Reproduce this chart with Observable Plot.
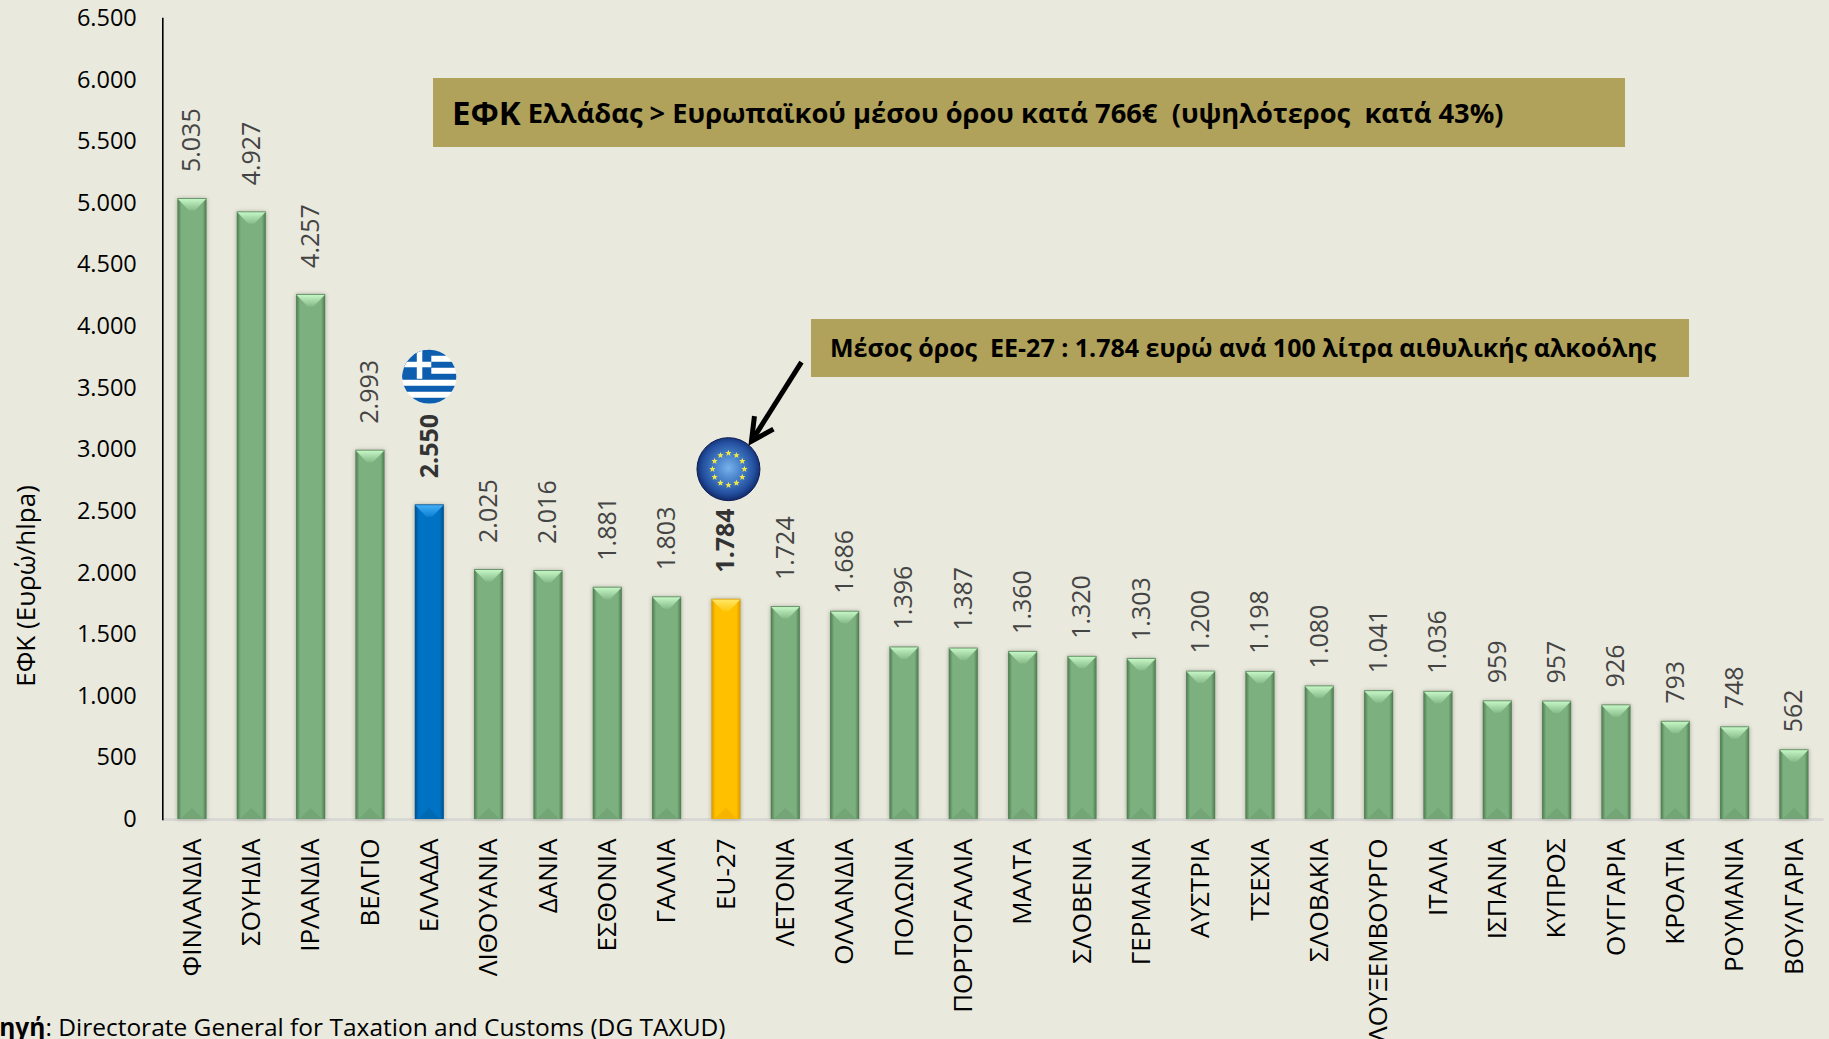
<!DOCTYPE html>
<html><head><meta charset="utf-8">
<script src="https://cdn.jsdelivr.net/npm/d3@7"></script>
<script src="https://cdn.jsdelivr.net/npm/@observablehq/plot@0.6"></script>
<style>
html,body{margin:0;padding:0;width:1829px;height:1039px;overflow:hidden;background:#e9e9dd;font-family:"Open Sans",sans-serif}
#chart{position:absolute;left:0;top:0}
.box{position:absolute;background:#b0a25a;color:#000;font-weight:700;white-space:nowrap;display:flex;align-items:center;box-sizing:border-box}
.cap{position:absolute;white-space:nowrap;color:#000}
svg{overflow:hidden}
</style></head><body>
<div id="chart"></div>
<div class="box" style="left:433px;top:78px;width:1192px;height:69px;padding-left:19px;font-size:27.3px"><span style="font-size:33px;margin-right:7px">ΕΦΚ</span><span>Ελλάδας &gt; Ευρωπαϊκού μέσου όρου κατά 766€ &nbsp;(υψηλότερος &nbsp;κατά 43%)</span></div>
<div class="box" style="left:811px;top:319px;width:878px;height:58px;padding:0 0 3px 19px;font-size:25px">Μέσος όρος &nbsp;ΕΕ-27 : 1.784 ευρώ ανά 100 λίτρα αιθυλικής αλκοόλης</div>
<div class="cap" style="left:-19px;top:1010px;font-size:24.5px"><b>Πηγή</b>: Directorate General for Taxation and Customs (DG TAXUD)</div>
<script>
const countries = ["ΦΙΝΛΑΝΔΙΑ","ΣΟΥΗΔΙΑ","ΙΡΛΑΝΔΙΑ","ΒΕΛΓΙΟ","ΕΛΛΑΔΑ","ΛΙΘΟΥΑΝΙΑ","ΔΑΝΙΑ","ΕΣΘΟΝΙΑ","ΓΑΛΛΙΑ","EU-27","ΛΕΤΟΝΙΑ","ΟΛΛΑΝΔΙΑ","ΠΟΛΩΝΙΑ","ΠΟΡΤΟΓΑΛΛΙΑ","ΜΑΛΤΑ","ΣΛΟΒΕΝΙΑ","ΓΕΡΜΑΝΙΑ","ΑΥΣΤΡΙΑ","ΤΣΕΧΙΑ","ΣΛΟΒΑΚΙΑ","ΛΟΥΞΕΜΒΟΥΡΓΟ","ΙΤΑΛΙΑ","ΙΣΠΑΝΙΑ","ΚΥΠΡΟΣ","ΟΥΓΓΑΡΙΑ","ΚΡΟΑΤΙΑ","ΡΟΥΜΑΝΙΑ","ΒΟΥΛΓΑΡΙΑ"];
const excise = [5035,4927,4257,2993,2550,2025,2016,1881,1803,1784,1724,1686,1396,1387,1360,1320,1303,1200,1198,1080,1041,1036,959,957,926,793,748,562];
const greece = "ΕΛΛΑΔΑ";
const eu = "EU-27";
const yTicks = d3.range(0,6501,500);
const rows = countries.map((name,i)=>({name,value:excise[i]}));
const fmt = d3.formatLocale({decimal:",",thousands:".",grouping:[3],currency:["","€"]}).format(",d");
const FONT = '"Open Sans",sans-serif';
const NS = "http://www.w3.org/2000/svg";

const themes = {
  green:{side:"#4a7a4e",mid:"#7db07f",top:"#c8f8c8",topEnd:"#86bb88",foot:"#6c9c6f"},
  blue:{side:"#004d8a",mid:"#0072c4",top:"#45b0f8",topEnd:"#0b80d2",foot:"#0062a8"},
  gold:{side:"#d89800",mid:"#ffc000",top:"#ffe868",topEnd:"#ffc810",foot:"#eeaa00"}
};
const themeOf = n => n===greece?"blue":n===eu?"gold":"green";
const el = (tag,attrs,parent)=>{const e=document.createElementNS(NS,tag);for(const k in attrs)e.setAttribute(k,attrs[k]);if(parent)parent.appendChild(e);return e;};

function defs(){
  const d=el("defs",{});
  for(const k in themes){
    const t=themes[k];
    const g=el("linearGradient",{id:"bar-"+k,x1:0,x2:1,y1:0,y2:0},d);
    [[0,t.side],[.14,t.mid],[.86,t.mid],[1,t.side]].forEach(([o,c])=>el("stop",{offset:o,"stop-color":c},g));
    const v=el("linearGradient",{id:"bev-"+k,x1:0,x2:0,y1:0,y2:1},d);
    [[0,t.top],[1,t.topEnd]].forEach(([o,c])=>el("stop",{offset:o,"stop-color":c},v));
  }
  const eg=el("radialGradient",{id:"eu-ball",cx:.5,cy:.48,r:.55},d);
  [[0,"#77b2ea"],[.35,"#4b84cc"],[.75,"#234f9e"],[1,"#0c1f5c"]].forEach(([o,c])=>el("stop",{offset:o,"stop-color":c},eg));
  const cp=el("clipPath",{id:"gr-clip"},d); el("circle",{cx:0,cy:0,r:27},cp);
  return d;
}
function bevels(_,{x,y}){
  const g=el("g",{});
  const w=x.bandwidth();
  rows.forEach(r=>{
    const th=themeOf(r.name), l=x(r.name), t=y(r.value), b=y(0), c=l+w/2;
    el("path",{d:`M${l},${t}H${l+w}L${c+3},${t+12}H${c-3}Z`,fill:`url(#bev-${th})`},g);
    el("path",{d:`M${l},${t}H${l+w}`,stroke:themes[th].side,"stroke-width":1,opacity:.7},g);
    el("path",{d:`M${l+3},${b}L${c},${b-11}L${l+w-3},${b}Z`,fill:themes[th].foot,opacity:.55},g);
  });
  return g;
}
function star(g,cx,cy,r,fill){
  const pts=[];
  for(let i=0;i<10;i++){const a=-Math.PI/2+i*Math.PI/5,R=i%2?r*.42:r;pts.push((cx+R*Math.cos(a)).toFixed(2)+","+(cy+R*Math.sin(a)).toFixed(2));}
  el("polygon",{points:pts.join(" "),fill},g);
}
function emblems(_,{x,y}){
  const root=el("g",{});
  const w=x.bandwidth();
  const gx=x(greece)+w/2, gy=y(excise[countries.indexOf(greece)])-128;
  const f=el("g",{transform:`translate(${gx},${gy})`,"clip-path":"url(#gr-clip)"},root);
  el("rect",{x:-28,y:-28,width:56,height:56,fill:"#fff"},f);
  const blue="#0d5eaf", h=6;
  [-27,-15,-3,9,21].forEach(s=>el("rect",{x:-28,y:s,width:56,height:h,fill:blue},f));
  el("rect",{x:-28,y:-28,width:30,height:30,fill:blue},f);
  el("rect",{x:-28,y:-15,width:30,height:5.5,fill:"#fff"},f);
  el("rect",{x:-12.5,y:-28,width:5.5,height:30,fill:"#fff"},f);
  const ex=x(eu)+w/2+2.5, ey=y(excise[countries.indexOf(eu)])-130;
  const e=el("g",{transform:`translate(${ex},${ey})`},root);
  el("circle",{r:31.5,fill:"url(#eu-ball)",stroke:"#0d1c55","stroke-width":1},e);
  for(let i=0;i<12;i++){const a=i*Math.PI/6;star(e,16*Math.sin(a),-16*Math.cos(a),3.4,"#f2e84a");}
  const a0=[ex+73,ey-107], a1=[ex+23,ey-28];
  el("line",{x1:a0[0],y1:a0[1],x2:a1[0]+2,y2:a1[1]-3,stroke:"#000","stroke-width":5},root);
  el("path",{d:`M${a1[0]+3},${a1[1]-25}L${a1[0]},${a1[1]}L${a1[0]+22},${a1[1]-12}`,fill:"none",stroke:"#000","stroke-width":5},root);
  return root;
}
const soft = (i,s,v,d,c,next)=>{const g=next(i,s,v,d,c);g.style.filter="drop-shadow(0 0 2px rgba(60,60,50,.4))";return g;};

const labelBase = {x:"name",y:"value",text:d=>fmt(d.value),rotate:-90,textAnchor:"start",lineAnchor:"middle",fontSize:25,fill:"#444",fontFamily:FONT};
const isBold = d => d.name===greece||d.name===eu;
const plot = Plot.plot({
  width:1829,height:1039,
  marginLeft:162.3,marginRight:5.4,marginTop:18,marginBottom:220,
  style:{background:"transparent",fontFamily:FONT},
  x:{domain:countries,paddingInner:0.51,paddingOuter:0.255,label:null,align:0.5,round:false},
  y:{domain:[0,6500],label:null},
  marks:[
    defs,
    Plot.ruleY([0],{stroke:"#d8d8d4",strokeWidth:3}),
    Plot.barY(rows.filter(d=>themeOf(d.name)==="green"),{x:"name",y:"value",fill:"url(#bar-green)",render:soft}),
    Plot.barY(rows.filter(d=>d.name===greece),{x:"name",y:"value",fill:"url(#bar-blue)",render:soft}),
    Plot.barY(rows.filter(d=>d.name===eu),{x:"name",y:"value",fill:"url(#bar-gold)",render:soft}),
    bevels,
    Plot.axisY({ticks:yTicks,tickFormat:fmt,tickSize:0,tickPadding:26,fontSize:23.5,fill:"#000",label:null}),
    Plot.axisX({tickRotate:-90,tickSize:0,tickPadding:19,fontSize:26,fill:"#000",label:null}),
    Plot.frame({anchor:"left",stroke:"#000",strokeWidth:1.6}),
    Plot.text(rows.filter(d=>!isBold(d)&&d.value>=1700),{...labelBase,dy:-27}),
    Plot.text(rows.filter(d=>!isBold(d)&&d.value<1700),{...labelBase,dy:-18}),
    Plot.text(rows.filter(isBold),{...labelBase,dy:-27,fontWeight:"bold",fill:"#333"}),
    Plot.text(["ΕΦΚ (Ευρώ/hlpa)"],{frameAnchor:"left",dx:-136,dy:167,rotate:-90,textAnchor:"middle",text:d=>d,fontSize:26,fill:"#000",fontFamily:FONT}),
    emblems
  ]
});
document.getElementById("chart").appendChild(plot);
</script>
</body></html>
